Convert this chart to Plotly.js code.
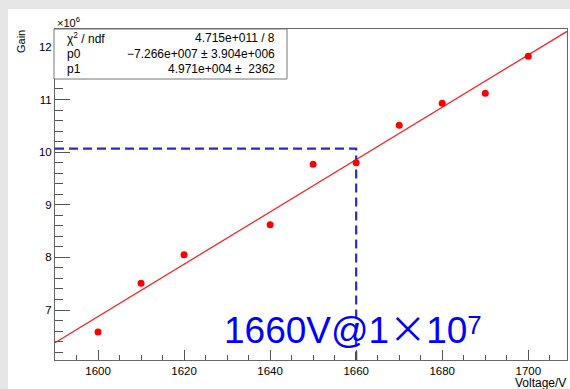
<!DOCTYPE html>
<html>
<head>
<meta charset="utf-8">
<script src="https://cdn.plot.ly/plotly-3.0.1.min.js"></script>
<style>html,body{margin:0;padding:0;background:#e6e6e6;overflow:hidden;}#chart{width:570px;height:429px;margin-top:-40px;}</style>
</head>
<body>
<div id="chart"></div>
<script>
// Data (gain in units of 1e6)
const voltage = [1600, 1610, 1620, 1640, 1650, 1660, 1670, 1680, 1690, 1700];
const gainE6  = [6.58, 7.51, 8.05, 8.62, 9.77, 9.80, 10.51, 10.93, 11.12, 11.82];
// Fit parameters (from the stats box)
const fitP0 = -7.266e7;
const fitP1 = 4.971e4;
const fitRange = [1590, 1709];
// Working point marker
const workV = [1660];
const workGainE6 = [10.065];
// Axis ranges
const xRange = [1590, 1709];
const yRange = [6.05, 12.34];
const chartTitle = "HV Gain";
const statsLabels = ["χ<sup>2</sup> / ndf", "p0", "p1"];
const statsValues = ["4.715e+011 / 8", "−7.266e+007 ± 3.904e+006", "4.971e+004 ±  2362"];

const fitX = fitRange;
const fitY = fitRange.map(v => (fitP0 + fitP1 * v) / 1e6);

const font = "Liberation Sans, Arial, Helvetica, sans-serif";

// page-pixel to paper-fraction helpers (plot area: x 55..567, y 29..360 on the page)
const px = p => (p - 55) / 512;
const py = p => (360 - p) / 331;

const traces = [
  {
    x: fitX, y: fitY, type: 'scatter', mode: 'lines',
    line: {color: '#f0282d', width: 1.3}, hoverinfo: 'skip'
  },
  {
    x: [xRange[0], workV[0], workV[0]],
    y: [workGainE6[0], workGainE6[0], yRange[0]],
    type: 'scatter', mode: 'lines',
    line: {color: '#2b2bbf', width: 2.2, dash: '9px,5px'}, hoverinfo: 'skip'
  },
  {
    x: voltage, y: gainE6, type: 'scatter', mode: 'markers',
    marker: {color: '#ff0000', size: 7}
  }
];

const annotations = [
  {text: chartTitle, x: px(300), y: py(-16), xref: 'paper', yref: 'paper', xanchor: 'center', yanchor: 'middle', showarrow: false, font: {family: font, size: 48, color: '#000'}},
  {text: '×10<sup>6</sup>', x: 0, y: py(22), xref: 'paper', yref: 'paper', xanchor: 'left', yanchor: 'middle', showarrow: false, font: {family: font, size: 11, color: '#000'}},
  {text: 'Gain', x: px(21), y: py(42), xref: 'paper', yref: 'paper', xanchor: 'center', yanchor: 'middle', textangle: -90, showarrow: false, font: {family: font, size: 11, color: '#000'}},
  {text: 'Voltage/V', x: px(568), y: py(383), xref: 'paper', yref: 'paper', xanchor: 'right', yanchor: 'middle', showarrow: false, font: {family: font, size: 12, color: '#000'}},
  {text: '1660V@1<span style="font-family:\'Noto Sans CJK SC\'">×</span>10<span style="font-size:26px;baseline-shift:9px">7</span>', x: px(353), y: py(327), xref: 'paper', yref: 'paper', xanchor: 'center', yanchor: 'middle', showarrow: false, font: {family: font, size: 37, color: '#0000ff'}}
];
const rowsY = [37.7, 54.3, 69.3];
statsLabels.forEach((t, i) => annotations.push({text: t, x: px(65), y: py(rowsY[i]), xref: 'paper', yref: 'paper', xanchor: 'left', yanchor: 'middle', showarrow: false, font: {family: font, size: 12, color: '#000'}}));
statsValues.forEach((t, i) => annotations.push({text: t, x: px(277), y: py(rowsY[i]), xref: 'paper', yref: 'paper', xanchor: 'right', yanchor: 'middle', showarrow: false, font: {family: font, size: 12, color: '#000'}}));

const layout = {
  width: 570, height: 429,
  margin: {l: 55, r: 3, t: 69, b: 29, pad: 0},
  paper_bgcolor: '#e6e6e6', plot_bgcolor: '#ffffff',
  showlegend: false,
  font: {family: font, size: 11.5, color: '#000'},
  xaxis: {
    range: xRange, dtick: 20, tick0: 1600, ticks: 'inside', ticklen: 10, tickcolor: '#555',
    minor: {dtick: 5, ticks: 'inside', ticklen: 5, tickcolor: '#555'},
    showline: true, linecolor: '#666', linewidth: 1, mirror: true, showgrid: false, zeroline: false,
    tickfont: {family: font, size: 11.5, color: '#000'}
  },
  yaxis: {
    range: yRange, dtick: 1, tick0: 7, ticks: 'inside', ticklen: 15, tickcolor: '#555',
    minor: {dtick: 0.2, ticks: 'inside', ticklen: 8, tickcolor: '#555'},
    showline: true, linecolor: '#666', linewidth: 1, mirror: true, showgrid: false, zeroline: false,
    tickfont: {family: font, size: 11.5, color: '#000'}
  },
  shapes: [
    {type: 'rect', xref: 'paper', yref: 'paper', x0: px(8), x1: px(575), y0: py(395), y1: py(9), fillcolor: '#ffffff', line: {width: 0}, layer: 'below'},
    {type: 'rect', xref: 'paper', yref: 'paper', x0: px(54), x1: px(287), y0: py(79), y1: py(29), fillcolor: '#ffffff', line: {color: '#777', width: 1}, layer: 'above'}
  ],
  annotations: annotations
};

Plotly.newPlot('chart', traces, layout, {staticPlot: true, displayModeBar: false});
</script>
</body>
</html>
